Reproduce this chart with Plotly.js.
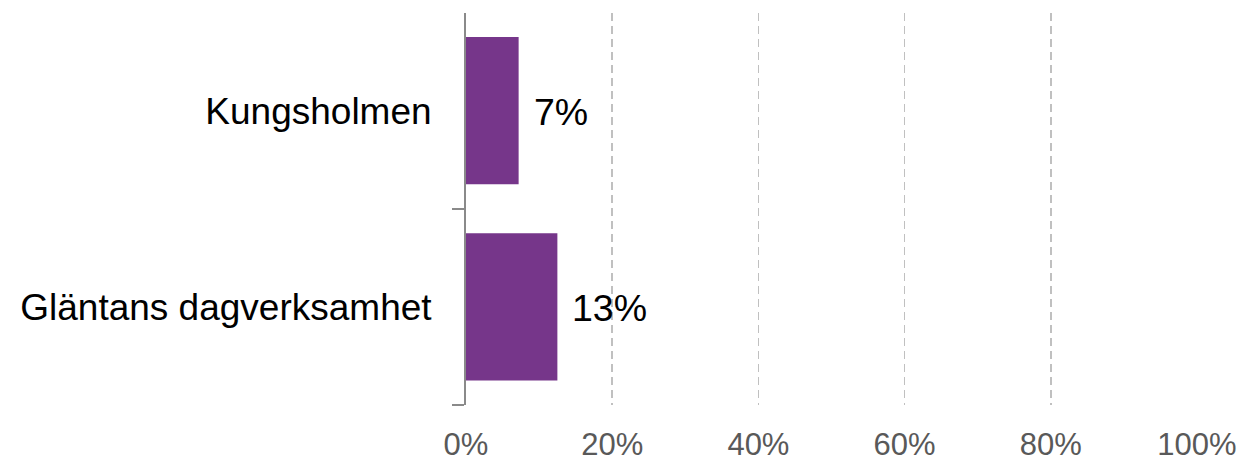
<!DOCTYPE html>
<html>
<head>
<meta charset="utf-8">
<script src="https://cdn.plot.ly/plotly-3.0.1.min.js"></script>
<style>html,body{margin:0;padding:0;background:#fff;}#chart{width:1255px;height:462px;}</style>
</head>
<body>
<div id="chart"></div>
<script>
const categories = ['Gläntans dagverksamhet', 'Kungsholmen'];
const values = [0.125, 0.072];
const valueLabels = ['13%', '7%'];
const xTickValues = [0, 0.2, 0.4, 0.6, 0.8, 1.0];
const xTickLabels = ['0%', '20%', '40%', '60%', '80%', '100%'];

const barColor = '#76368A';
const font = 'Arial, "Liberation Sans", sans-serif';

const trace = {
  type: 'bar',
  orientation: 'h',
  y: categories,
  x: values,
  marker: {color: barColor},
  width: 0.75,
  hoverinfo: 'none'
};

const annotations = categories.map((c, i) => ({
  x: values[i], y: c, xref: 'x', yref: 'y',
  text: valueLabels[i], showarrow: false,
  xanchor: 'left', yanchor: 'middle', xshift: 13, yshift: -1,
  font: {family: font, size: 37.5, color: '#000000'}
}));

const layout = {
  width: 1255, height: 462,
  margin: {l: 466, r: 58, t: 13, b: 57},
  paper_bgcolor: '#ffffff', plot_bgcolor: '#ffffff',
  showlegend: false,
  xaxis: {
    range: [0, 1],
    tickvals: xTickValues, ticktext: xTickLabels,
    showgrid: true, gridcolor: '#c0c0c0', griddash: '8px,5px', gridwidth: 1.5,
    zeroline: false, showline: false, ticks: '',
    tickfont: {family: font, size: 31, color: '#595959'},
    ticklabelstandoff: 18,
    fixedrange: true
  },
  yaxis: {
    type: 'category',
    categoryorder: 'array', categoryarray: categories,
    range: [-0.5, 1.497],
    showline: true, linecolor: '#8a8a8a', linewidth: 2,
    showgrid: false, zeroline: false,
    ticks: 'outside', tickson: 'boundaries', ticklen: 12, tickcolor: '#8a8a8a', tickwidth: 2,
    tickfont: {family: font, size: 37, color: '#000000'},
    ticklabelstandoff: 25,
    fixedrange: true
  },
  annotations: annotations
};

Plotly.newPlot('chart', [trace], layout, {displayModeBar: false, staticPlot: true});
</script>
</body>
</html>
